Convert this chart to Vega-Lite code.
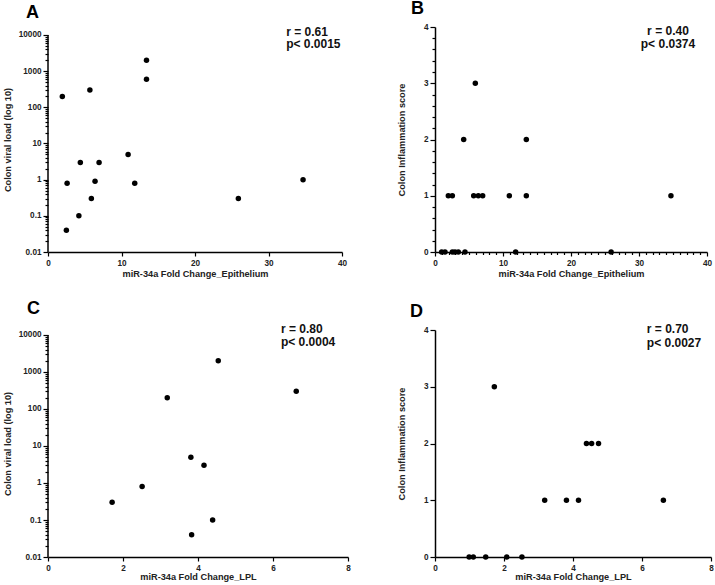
{
  "$schema": "https://vega.github.io/schema/vega-lite/v6.json",
  "background": "white",
  "padding": {"left": 3, "top": 0, "right": 0, "bottom": 0},
  "config": {
    "view": {"stroke": null},
    "font": "Liberation Sans",
    "axis": {
      "grid": false,
      "domainColor": "black",
      "domainWidth": 1.5,
      "tickColor": "black",
      "tickWidth": 1.2,
      "tickSize": 4,
      "labelFont": "Liberation Sans",
      "labelFontSize": 8.2,
      "labelFontWeight": "bold",
      "labelColor": "#222",
      "labelPadding": 2,
      "labelFlush": false,
      "titleFont": "Liberation Sans",
      "titleFontSize": 9.2,
      "titleFontWeight": "bold",
      "titleColor": "#222"
    },
    "title": {"font": "Liberation Sans", "fontSize": 18, "fontWeight": "bold", "color": "black", "anchor": "start", "frame": "group"}
  },
  "columns": 2,
  "bounds": "flush",
  "spacing": {"row": 78, "column": 87},
  "concat": [
    {
      "width": 294,
      "height": 225,
      "title": {"text": "A", "dx": -22, "offset": 4},
      "layer": [
        {
          "data": {"values": [{"k": 1}]},
          "mark": {"type": "rule", "color": "black", "strokeWidth": 1.5},
          "encoding": {
            "x": {"datum": 0, "type": "quantitative", "axis": {"labelOverlap": "greedy"}},
            "y": {"datum": 0.01, "type": "quantitative", "axis": {"labelOverlap": "greedy", "tickCount": 1000}},
            "y2": {"datum": 10000}
          }
        },
        {
          "data": {"values": [
            {"x": 1.95, "y": 200}, {"x": 5.7, "y": 300}, {"x": 13.4, "y": 2000}, {"x": 13.4, "y": 600},
            {"x": 10.9, "y": 5}, {"x": 4.4, "y": 3}, {"x": 6.95, "y": 3}, {"x": 2.6, "y": 0.8},
            {"x": 6.4, "y": 0.9}, {"x": 11.8, "y": 0.8}, {"x": 5.9, "y": 0.3}, {"x": 4.2, "y": 0.1},
            {"x": 2.5, "y": 0.04}, {"x": 25.9, "y": 0.3}, {"x": 34.7, "y": 1}
          ]},
          "mark": {"type": "point", "filled": true, "size": 30, "color": "black", "opacity": 1},
          "encoding": {
            "x": {"field": "x", "type": "quantitative",
              "scale": {"domain": [0, 40], "nice": false},
              "axis": {"title": "miR-34a Fold Change_Epithelium", "values": [0, 10, 20, 30, 40], "titlePadding": 3, "labelPadding": 3, "labelOverlap": "greedy"}},
            "y": {"field": "y", "type": "quantitative",
              "scale": {"type": "log", "domain": [0.01, 16640], "nice": false},
              "axis": {"title": "Colon viral load (log 10)", "domain": false, "titlePadding": 6, "labelOverlap": "greedy", "tickCount": 1000,
                "values": [0.01,0.02,0.03,0.04,0.05,0.06,0.07,0.08,0.09,0.1,0.2,0.3,0.4,0.5,0.6,0.7,0.8,0.9,1,2,3,4,5,6,7,8,9,10,20,30,40,50,60,70,80,90,100,200,300,400,500,600,700,800,900,1000,2000,3000,4000,5000,6000,7000,8000,9000,10000],
                "labelExpr": "indexof([0.01,0.1,1,10,100,1000,10000], datum.value) >= 0 ? format(datum.value, '') : ''",
                "tickSize": {"condition": {"test": "indexof([0.01,0.1,1,10,100,1000,10000], datum.value) >= 0", "value": 5}, "value": 3}}}
          }
        },
        {
          "data": {"values": [{"k": 1}]},
          "mark": {"type": "text", "align": "left", "baseline": "alphabetic", "font": "Liberation Sans", "fontSize": 12, "fontWeight": "bold", "color": "#111", "lineHeight": 12.3},
          "encoding": {
            "x": {"datum": 32.4, "type": "quantitative", "axis": {"labelOverlap": "greedy"}},
            "y": {"datum": 9380, "type": "quantitative", "axis": {"labelOverlap": "greedy", "tickCount": 1000}},
            "text": {"value": ["r = 0.61", "p< 0.0015"]}
          }
        }
      ]
    },
    {
      "width": 272,
      "height": 225,
      "title": {"text": "B", "dx": -24, "offset": 4},
      "layer": [
        {
          "data": {"values": [
            {"x": 0.98, "y": 0}, {"x": 1.47, "y": 0}, {"x": 2.55, "y": 0}, {"x": 2.94, "y": 0},
            {"x": 3.43, "y": 0}, {"x": 4.41, "y": 0}, {"x": 11.86, "y": 0}, {"x": 25.9, "y": 0},
            {"x": 1.96, "y": 1}, {"x": 2.55, "y": 1}, {"x": 5.69, "y": 1}, {"x": 6.37, "y": 1},
            {"x": 7.01, "y": 1}, {"x": 10.93, "y": 1}, {"x": 13.43, "y": 1}, {"x": 34.7, "y": 1},
            {"x": 4.22, "y": 2}, {"x": 13.43, "y": 2}, {"x": 5.93, "y": 3}
          ]},
          "mark": {"type": "point", "filled": true, "size": 30, "color": "black", "opacity": 1},
          "encoding": {
            "x": {"field": "x", "type": "quantitative",
              "scale": {"domain": [0, 40], "nice": false},
              "axis": {"title": "miR-34a Fold Change_Epithelium", "titlePadding": 3, "labelPadding": 3, "labelOverlap": "greedy", "tickCount": 1000,
                "values": [0,1,2,3,4,5,6,7,8,9,10,11,12,13,14,15,16,17,18,19,20,21,22,23,24,25,26,27,28,29,30,31,32,33,34,35,36,37,38,39,40],
                "labelExpr": "indexof([0,10,20,30,40], datum.value) >= 0 ? format(datum.value, 'd') : ''",
                "tickSize": {"condition": {"test": "indexof([0,10,20,30,40], datum.value) >= 0", "value": 4}, "value": 2.5}}},
            "y": {"field": "y", "type": "quantitative",
              "scale": {"domain": [0, 4], "nice": false},
              "axis": {"title": "Colon Inflammation score", "titlePadding": 17, "labelOverlap": "greedy", "tickCount": 1000,
                "values": [0,0.2,0.4,0.6,0.8,1,1.2,1.4,1.6,1.8,2,2.2,2.4,2.6,2.8,3,3.2,3.4,3.6,3.8,4],
                "labelExpr": "indexof([0,1,2,3,4], datum.value) >= 0 ? format(datum.value, 'd') : ''",
                "tickSize": {"condition": {"test": "indexof([0,1,2,3,4], datum.value) >= 0", "value": 5}, "value": 3}}}
          }
        },
        {
          "data": {"values": [{"k": 1}]},
          "mark": {"type": "text", "align": "center", "baseline": "alphabetic", "font": "Liberation Sans", "fontSize": 12, "fontWeight": "bold", "color": "#111", "lineHeight": 12.6},
          "encoding": {
            "x": {"datum": 34.26, "type": "quantitative", "axis": {"labelOverlap": "greedy", "tickCount": 1000}},
            "y": {"datum": 3.858, "type": "quantitative", "axis": {"labelOverlap": "greedy", "tickCount": 1000}},
            "text": {"value": ["r = 0.40", "p< 0.0374"]}
          }
        }
      ]
    },
    {
      "width": 300,
      "height": 227,
      "title": {"text": "C", "dx": -21, "offset": 5},
      "layer": [
        {
          "data": {"values": [{"k": 1}]},
          "mark": {"type": "rule", "color": "black", "strokeWidth": 1.5},
          "encoding": {
            "x": {"datum": 0, "type": "quantitative", "axis": {"labelOverlap": "greedy"}},
            "y": {"datum": 0.01, "type": "quantitative", "axis": {"labelOverlap": "greedy", "tickCount": 1000}},
            "y2": {"datum": 10000}
          }
        },
        {
          "data": {"values": [
            {"x": 1.71, "y": 0.3}, {"x": 2.51, "y": 0.8}, {"x": 3.18, "y": 200}, {"x": 3.81, "y": 5},
            {"x": 4.16, "y": 3}, {"x": 3.83, "y": 0.04}, {"x": 4.39, "y": 0.1}, {"x": 4.54, "y": 2000},
            {"x": 6.62, "y": 300}
          ]},
          "mark": {"type": "point", "filled": true, "size": 30, "color": "black", "opacity": 1},
          "encoding": {
            "x": {"field": "x", "type": "quantitative",
              "scale": {"domain": [0, 8], "nice": false},
              "axis": {"title": "miR-34a Fold Change_LPL", "values": [0, 2, 4, 6, 8], "titlePadding": 1, "labelPadding": 3, "labelOverlap": "greedy"}},
            "y": {"field": "y", "type": "quantitative",
              "scale": {"type": "log", "domain": [0.01, 13650], "nice": false},
              "axis": {"title": "Colon viral load (log 10)", "domain": false, "titlePadding": 6, "labelOverlap": "greedy", "tickCount": 1000,
                "values": [0.01,0.02,0.03,0.04,0.05,0.06,0.07,0.08,0.09,0.1,0.2,0.3,0.4,0.5,0.6,0.7,0.8,0.9,1,2,3,4,5,6,7,8,9,10,20,30,40,50,60,70,80,90,100,200,300,400,500,600,700,800,900,1000,2000,3000,4000,5000,6000,7000,8000,9000,10000],
                "labelExpr": "indexof([0.01,0.1,1,10,100,1000,10000], datum.value) >= 0 ? format(datum.value, '') : ''",
                "tickSize": {"condition": {"test": "indexof([0.01,0.1,1,10,100,1000,10000], datum.value) >= 0", "value": 5}, "value": 3}}}
          }
        },
        {
          "data": {"values": [{"k": 1}]},
          "mark": {"type": "text", "align": "left", "baseline": "alphabetic", "font": "Liberation Sans", "fontSize": 12, "fontWeight": "bold", "color": "#111", "lineHeight": 13.4},
          "encoding": {
            "x": {"datum": 6.21, "type": "quantitative", "axis": {"labelOverlap": "greedy"}},
            "y": {"datum": 11610, "type": "quantitative", "axis": {"labelOverlap": "greedy", "tickCount": 1000}},
            "text": {"value": ["r = 0.80", "p< 0.0004"]}
          }
        }
      ]
    },
    {
      "width": 276,
      "height": 227,
      "title": {"text": "D", "dx": -25, "offset": 2},
      "layer": [
        {
          "data": {"values": [
            {"x": 0.99, "y": 0}, {"x": 1.11, "y": 0}, {"x": 1.47, "y": 0}, {"x": 2.08, "y": 0}, {"x": 2.52, "y": 0},
            {"x": 3.18, "y": 1}, {"x": 3.81, "y": 1}, {"x": 4.16, "y": 1}, {"x": 6.62, "y": 1},
            {"x": 4.39, "y": 2}, {"x": 4.54, "y": 2}, {"x": 4.74, "y": 2}, {"x": 1.72, "y": 3}
          ]},
          "mark": {"type": "point", "filled": true, "size": 30, "color": "black", "opacity": 1},
          "encoding": {
            "x": {"field": "x", "type": "quantitative",
              "scale": {"domain": [0, 8], "nice": false},
              "axis": {"title": "miR-34a Fold Change_LPL", "values": [0, 2, 4, 6, 8], "titlePadding": 1, "labelPadding": 3, "labelOverlap": "greedy"}},
            "y": {"field": "y", "type": "quantitative",
              "scale": {"domain": [0, 4], "nice": false},
              "axis": {"title": "Colon Inflammation score", "titlePadding": 17, "values": [0, 1, 2, 3, 4], "tickSize": 5, "format": "d", "labelOverlap": "greedy"}}
          }
        },
        {
          "data": {"values": [{"k": 1}]},
          "mark": {"type": "text", "align": "left", "baseline": "alphabetic", "font": "Liberation Sans", "fontSize": 12, "fontWeight": "bold", "color": "#111", "lineHeight": 13.3},
          "encoding": {
            "x": {"datum": 6.14, "type": "quantitative", "axis": {"labelOverlap": "greedy"}},
            "y": {"datum": 3.94, "type": "quantitative", "axis": {"labelOverlap": "greedy"}},
            "text": {"value": ["r = 0.70", "p< 0.0027"]}
          }
        }
      ]
    }
  ]
}
